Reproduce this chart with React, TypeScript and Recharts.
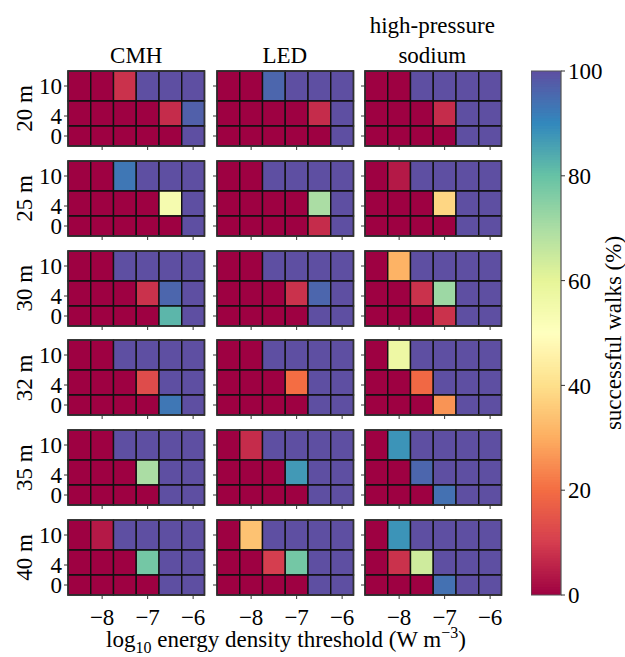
import React from 'react';
import { ComposedChart, XAxis, YAxis, ReferenceArea, Scatter } from 'recharts';

// ---------- data ----------
const xCenters = [-8.5, -8, -7.5, -7, -6.5, -6];
const xTicks = [-8, -7, -6];
const yLevels = [10, 4, 0]; // rows, top to bottom
const heightLabels = ['20 m', '25 m', '30 m', '32 m', '35 m', '40 m'];
const lampNames = ['CMH', 'LED', 'high-pressure sodium'];
const cbTicks = [0, 20, 40, 60, 80, 100];

const cmh20 = [[0, 0, 8, 100, 100, 100], [0, 0, 0, 0, 7, 97], [0, 0, 0, 0, 0, 100]];
const led20 = [[0, 0, 96, 100, 100, 100], [0, 0, 0, 0, 7, 100], [0, 0, 0, 0, 0, 100]];
const hps20 = [[0, 0, 100, 100, 100, 100], [0, 0, 0, 7, 100, 100], [0, 0, 0, 0, 100, 100]];
const cmh25 = [[0, 0, 93, 100, 100, 100], [0, 0, 0, 0, 54, 100], [0, 0, 0, 0, 0, 100]];
const led25 = [[0, 0, 100, 100, 100, 100], [0, 0, 0, 0, 70, 100], [0, 0, 0, 0, 7, 100]];
const hps25 = [[0, 4, 100, 100, 100, 100], [0, 0, 0, 38, 100, 100], [0, 0, 0, 0, 100, 100]];
const cmh30 = [[0, 0, 100, 100, 100, 100], [0, 0, 0, 8, 96, 100], [0, 0, 0, 0, 82, 100]];
const led30 = [[0, 0, 100, 100, 100, 100], [0, 0, 0, 8, 96, 100], [0, 0, 0, 0, 100, 100]];
const hps30 = [[0, 31, 100, 100, 100, 100], [0, 0, 8, 72, 100, 100], [0, 0, 0, 8, 100, 100]];
const cmh32 = [[0, 0, 100, 100, 100, 100], [0, 0, 0, 13, 100, 100], [0, 0, 0, 0, 93, 100]];
const led32 = [[0, 0, 100, 100, 100, 100], [0, 0, 0, 20, 100, 100], [0, 0, 0, 0, 100, 100]];
const hps32 = [[0, 57, 100, 100, 100, 100], [0, 0, 19, 100, 100, 100], [0, 0, 0, 26, 100, 100]];
const cmh35 = [[0, 0, 100, 100, 100, 100], [0, 0, 0, 70, 100, 100], [0, 0, 0, 0, 100, 100]];
const led35 = [[0, 7, 100, 100, 100, 100], [0, 0, 0, 87, 100, 100], [0, 0, 0, 0, 100, 100]];
const hps35 = [[0, 88, 100, 100, 100, 100], [0, 0, 96, 100, 100, 100], [0, 0, 0, 94, 100, 100]];
const cmh40 = [[0, 4, 100, 100, 100, 100], [0, 0, 0, 78, 100, 100], [0, 0, 0, 0, 100, 100]];
const led40 = [[0, 34, 100, 100, 100, 100], [0, 0, 10, 78, 100, 100], [0, 0, 0, 0, 100, 100]];
const hps40 = [[0, 88, 100, 100, 100, 100], [0, 8, 64, 100, 100, 100], [0, 0, 0, 94, 100, 100]];

const grids = [
  [cmh20, led20, hps20],
  [cmh25, led25, hps25],
  [cmh30, led30, hps30],
  [cmh32, led32, hps32],
  [cmh35, led35, hps35],
  [cmh40, led40, hps40],
];

// ---------- colormap (matplotlib Spectral) ----------
const SPECTRAL = ['#9e0142', '#d53e4f', '#f46d43', '#fdae61', '#fee08b', '#ffffbf', '#e6f598', '#abdda4', '#66c2a5', '#3288bd', '#5e4fa2'];
const hex = (h: string) => [parseInt(h.slice(1, 3), 16), parseInt(h.slice(3, 5), 16), parseInt(h.slice(5, 7), 16)];
function spectral(v: number) {
  const t = Math.max(0, Math.min(1, v / 100)) * (SPECTRAL.length - 1);
  const i = Math.min(Math.floor(t), SPECTRAL.length - 2);
  const f = t - i;
  const a = hex(SPECTRAL[i]);
  const b = hex(SPECTRAL[i + 1]);
  const c = a.map((x, k) => Math.round(x + (b[k] - x) * f));
  return `rgb(${c[0]},${c[1]},${c[2]})`;
}

// cell edges from centres
const xHalf = (xCenters[1] - xCenters[0]) / 2;
const xDomain = [xCenters[0] - xHalf, xCenters[xCenters.length - 1] + xHalf];
const ySorted = [...yLevels].sort((a, b) => a - b);
const yEdges: number[] = [];
yEdges.push(ySorted[0] - (ySorted[1] - ySorted[0]) / 2);
for (let i = 0; i < ySorted.length - 1; i++) yEdges.push((ySorted[i] + ySorted[i + 1]) / 2);
yEdges.push(ySorted[ySorted.length - 1] + (ySorted[ySorted.length - 1] - ySorted[ySorted.length - 2]) / 2);
const yEdge = (lvl: number) => {
  const k = ySorted.indexOf(lvl);
  return [yEdges[k], yEdges[k + 1]];
};

// ---------- layout ----------
const FONT = "'Liberation Serif', 'Times New Roman', 'DejaVu Serif', serif";
const FS = 23;
const colLeft = [68, 216.5, 365];
const PW = 136.5;
const PH = 75;
const rowTop = [71, 160.8, 250.6, 340.4, 430.2, 520];
const YW = 40;
const XH = 42;
const minus = (v: number) => (v < 0 ? '\u2212' + Math.abs(v) : String(v));
const tickStyle = { fontSize: FS, fill: '#000', fontFamily: FONT, style: { fontFamily: FONT } };

function Panel({ grid, showY, showX }: { grid: number[][]; showY: boolean; showX: boolean }) {
  const pts = yLevels.flatMap((y) => xCenters.map((x) => ({ x, y })));
  return (
    <ComposedChart width={YW + PW + 2} height={2 + PH + XH} margin={{ top: 2, right: 2, bottom: 0, left: 0 }}>
      <XAxis
        type="number"
        dataKey="x"
        domain={xDomain}
        allowDataOverflow
        ticks={xTicks}
        height={XH}
        axisLine={false}
        tickLine={{ stroke: '#333', strokeWidth: 1 }}
        tickSize={4}
        tickMargin={10}
        interval={0}
        tick={tickStyle}
        tickFormatter={(v: number) => (showX ? minus(v) : '')}
      />
      <YAxis
        type="number"
        dataKey="y"
        domain={[yEdges[0], yEdges[yEdges.length - 1]]}
        allowDataOverflow
        ticks={ySorted}
        width={YW}
        axisLine={false}
        tickLine={{ stroke: '#333', strokeWidth: 1 }}
        tickSize={4}
        tickMargin={2}
        interval={0}
        tick={tickStyle}
        tickFormatter={(v: number) => (showY ? String(v) : '')}
      />
      {yLevels.map((lvl, r) =>
        xCenters.map((xc, c) => {
          const [y1, y2] = yEdge(lvl);
          return (
            <ReferenceArea
              key={`${r}-${c}`}
              x1={xc - xHalf}
              x2={xc + xHalf}
              y1={y1}
              y2={y2}
              fill={spectral(grid[r][c])}
              fillOpacity={1}
              stroke="#111"
              strokeWidth={1.4}
              ifOverflow="extendDomain"
            />
          );
        })
      )}
      <ReferenceArea
        x1={xDomain[0]}
        x2={xDomain[1]}
        y1={yEdges[0]}
        y2={yEdges[yEdges.length - 1]}
        fill="none"
        fillOpacity={0}
        stroke="#333"
        strokeWidth={1.4}
      />
      <Scatter data={pts} dataKey="y" isAnimationActive={false} shape={() => <g />} />
    </ComposedChart>
  );
}

const CB_LEFT = 531;
const CB_TOP = 71;
const CB_W = 30;
const CB_H = 524;
const CB_M = 20;
const cbStrips = Array.from({ length: 200 }, (_, i) => i * 0.5);

function Colorbar() {
  return (
    <ComposedChart width={CB_W + 64} height={CB_H + 2 * CB_M} margin={{ top: CB_M, right: 0, bottom: CB_M, left: 0 }}>
      <XAxis type="number" dataKey="x" domain={[0, 1]} hide />
      <YAxis
        type="number"
        dataKey="y"
        orientation="right"
        domain={[0, 100]}
        ticks={cbTicks}
        width={64}
        axisLine={false}
        tickLine={{ stroke: '#333', strokeWidth: 1 }}
        tickSize={4}
        tickMargin={3}
        interval={0}
        tick={tickStyle}
      />
      {cbStrips.map((v) => (
        <ReferenceArea key={v} x1={0} x2={1} y1={v} y2={Math.min(v + 0.7, 100)} fill={spectral(v + 0.25)} fillOpacity={1} stroke="none" />
      ))}
      <ReferenceArea x1={0} x2={1} y1={0} y2={100} fill="none" fillOpacity={0} stroke="#555" strokeWidth={1.2} />
      <Scatter data={[{ x: 0.5, y: 50 }]} dataKey="y" isAnimationActive={false} shape={() => <g />} />
    </ComposedChart>
  );
}

export default function App() {
  return (
    <div style={{ position: 'absolute', left: 0, top: 0, width: 625, height: 657, background: '#fff', fontFamily: FONT, overflow: 'hidden' }}>
      {grids.map((row, r) =>
        row.map((grid, c) => (
          <div key={`${r}-${c}`} style={{ position: 'absolute', left: colLeft[c] - YW, top: rowTop[r] - 2 }}>
            <Panel grid={grid} showY={c === 0} showX={r === grids.length - 1} />
          </div>
        ))
      )}
      <div style={{ position: 'absolute', left: CB_LEFT, top: CB_TOP - CB_M }}>
        <Colorbar />
      </div>
      <svg width={625} height={657} style={{ position: 'absolute', left: 0, top: 0, pointerEvents: 'none', fontFamily: FONT }} fontSize={FS} fill="#000">
        <text x={colLeft[0] + PW / 2} y={63} textAnchor="middle">{lampNames[0]}</text>
        <text x={colLeft[1] + PW / 2} y={63} textAnchor="middle">{lampNames[1]}</text>
        <text x={colLeft[2] + PW / 2 - 1} y={33} textAnchor="middle">high-pressure</text>
        <text x={colLeft[2] + PW / 2 - 1} y={63} textAnchor="middle">sodium</text>
        {heightLabels.map((h, r) => (
          <text key={h} x={32} y={rowTop[r] + PH / 2} textAnchor="middle" transform={`rotate(-90 32 ${rowTop[r] + PH / 2})`}>
            {h}
          </text>
        ))}
        <text x={286} y={647} textAnchor="middle">
          log<tspan fontSize={16} dy={6}>10</tspan>
          <tspan dy={-6}> energy density threshold (W m</tspan>
          <tspan fontSize={16} dy={-9}>{'\u22123'}</tspan>
          <tspan dy={9}>)</tspan>
        </text>
        <text x={621} y={CB_TOP + CB_H / 2} textAnchor="middle" transform={`rotate(-90 621 ${CB_TOP + CB_H / 2})`}>
          successful walks (%)
        </text>
      </svg>
    </div>
  );
}
